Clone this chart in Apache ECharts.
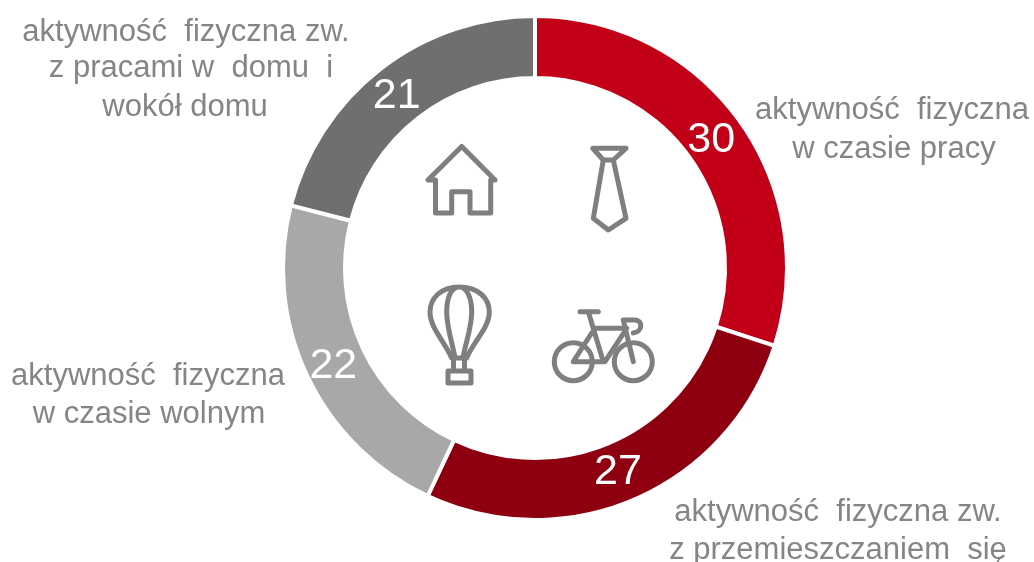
<!DOCTYPE html>
<html>
<head>
<meta charset="utf-8">
<style>html,body{margin:0;padding:0;background:#fff}#c{width:1034px;height:562px}</style>
<script src="https://cdn.jsdelivr.net/npm/echarts@6/dist/echarts.min.js"></script>
</head>
<body>
<div id="c"></div>
<script>
const categories = ['w czasie pracy', 'z przemieszczaniem się', 'w czasie wolnym', 'z pracami w domu i wokół domu'];
const values = [30, 27, 22, 21];
const colors = ['#c20018', '#8e0010', '#a8a8a8', '#6f6f6f'];
const labelOffsets = [[-5, 4], [-6, -1], [1, 3], [-1, 5]];
const captions = [
  ['aktywność  fizyczna zw.', 186, 32],
  ['z pracami w  domu  i', 191, 68],
  ['wokół domu', 185, 107],
  ['aktywność  fizyczna', 892, 110],
  ['w czasie pracy', 894, 149],
  ['aktywność  fizyczna', 148, 376],
  ['w czasie wolnym', 149, 414],
  ['aktywność  fizyczna zw.', 838, 512],
  ['z przemieszczaniem  się', 838, 550]
];
const iconPaths = [
  'M461.7 146.5L428 180H435.5V213H451.7V191.7H470V213H490.7V180H495Z',
  'M592.7 148.3H626L613.3 160H603.3ZM603.3 160L593.3 218.3L608.3 230L626 218.3L613.3 160',
  'M459.3 287C441 287 430 298 430 312C430 328 445 342 451.7 358H466.7C473 342 489.3 328 489.3 312C489.3 298 478 287 459.3 287ZM459.3 287C451 287 446.7 298 446.7 312C446.7 328 453 345 455 358M459.3 287C467 287 471.7 298 471.7 312C471.7 328 465 345 463 358M453.5 358V371M464.5 358V371M448 371H471V383H448Z',
  'M580 311.7H598.3M588.3 311.7L603.3 361.7M593.3 328.3H626.7L605 361.7H573.3L591.7 333M623.3 320L633.3 361.7M623.3 320H635C643 320 643 332 633.3 333',
];
const wheels = [[573.3, 361.7, 19], [633.3, 361.7, 19]];

const graphics = [];
captions.forEach(function (c) {
  graphics.push({ type: 'text', x: c[1], y: c[2], silent: true, style: {
    text: c[0], font: '31px "Liberation Sans", Arial, sans-serif', fill: '#858585',
    textAlign: 'center', textVerticalAlign: 'middle' } });
});
iconPaths.forEach(function (d, i) {
  const shapeName = 'icon' + i;
  echarts.graphic.registerShape(shapeName, echarts.graphic.extendPath(d, {}));
  graphics.push({ type: shapeName, silent: true,
    style: { fill: 'none', stroke: '#7f7f7f', lineWidth: 5, lineJoin: 'round', lineCap: 'round' } });
});
wheels.forEach(function (w) {
  graphics.push({ type: 'circle', silent: true, shape: { cx: w[0], cy: w[1], r: w[2] },
    style: { fill: 'none', stroke: '#7f7f7f', lineWidth: 5 } });
});

const chart = echarts.init(document.getElementById('c'), null, { renderer: 'canvas' });
chart.setOption({
  animation: false,
  backgroundColor: '#fff',
  graphic: graphics,
  series: [{
    type: 'pie',
    center: [535, 268],
    radius: [190, 252],
    startAngle: 90,
    clockwise: true,
    silent: true,
    itemStyle: { borderColor: '#fff', borderWidth: 4 },
    label: { show: true, position: 'inside', formatter: '{c}', color: '#fff',
      fontSize: 43, fontFamily: '"Liberation Sans", Arial, sans-serif' },
    labelLine: { show: false },
    data: categories.map(function (name, i) {
      return { name: name, value: values[i], itemStyle: { color: colors[i] },
        label: { offset: labelOffsets[i] } };
    })
  }]
});
</script>
</body>
</html>
